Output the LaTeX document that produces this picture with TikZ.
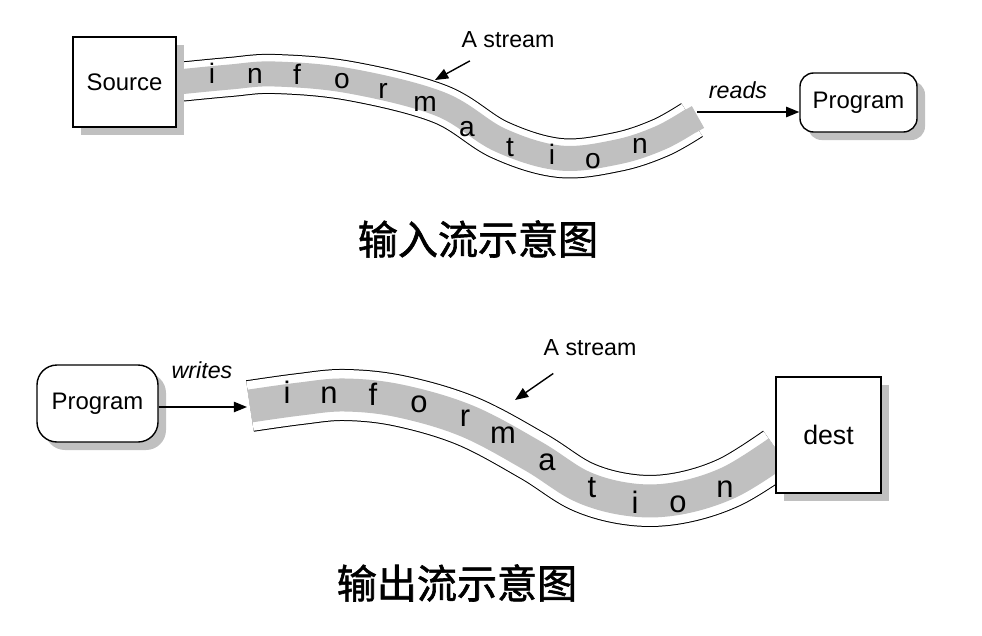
\documentclass[tikz,border=0pt]{standalone}
\usepackage{fontspec}
\setmainfont{Liberation Sans}
\newfontfamily\cjk[FakeBold=1.5]{Noto Sans CJK SC}
\usetikzlibrary{arrows.meta,shadows}
\definecolor{bandgray}{RGB}{192,192,192}

\tikzset{
  flow/.style={line width=0.35mm,-{Triangle[length=3.3mm,width=2.6mm]}},
  boxshadow/.style={general shadow={fill=bandgray,shadow xshift=2mm,shadow yshift=-2mm}},
  squarebox/.style={draw,line width=0.35mm,fill=white,inner sep=0pt,boxshadow,font=\fontsize{17pt}{20pt}\selectfont},
  roundbox/.style={squarebox,rounded corners=3.4mm},
  tag/.style={inner sep=0pt,font=\fontsize{16.5pt}{20pt}\selectfont},
  title/.style={inner sep=0pt,font=\cjk\fontsize{28.5pt}{34pt}\selectfont},
  streamtop/.style={draw=black,line width=10mm,line join=round,
    postaction={draw=white,line width=9.5mm},
    postaction={draw=bandgray,line width=6.25mm}},
  streambot/.style={draw=black,line width=13mm,line join=round,
    postaction={draw=white,line width=12.5mm},
    postaction={draw=bandgray,line width=8.25mm}},
  toplet/.style={inner sep=0pt,anchor=base,font=\fontsize{20pt}{24pt}\selectfont},
  botlet/.style={inner sep=0pt,anchor=base,font=\fontsize{22pt}{26pt}\selectfont}
}

\begin{document}
\begin{tikzpicture}[x=0.25mm,y=-0.25mm]
  \useasboundingbox (0,0) rectangle (982,635);

  % input stream
  \draw[streamtop] plot[smooth,tension=0.6] coordinates {(178,82) (230,77) (275,74) (350,81) (440,104)
    (500,140) (560,158) (617,152) (660,138) (692,120)};
  \draw[bandgray,line width=6.25mm] (690,121.5) -- (698,117);
  \foreach \ch/\x/\y [count=\k] in {i/212/83,n/255/83,f/297/84,o/342/88,r/383/98,m/425/111,
      a/467/136,t/510/156,i/552/164,o/593/168,n/640/153}
    \node[toplet] (top\k) at (\x,\y) {\ch};

  \node[squarebox,minimum width=25.75mm,minimum height=22.5mm] (source) at (124.5,82) {Source};
  \node[roundbox,minimum width=29.25mm,minimum height=14.75mm] (prog1) at (858.5,102.5) {Program};

  \coordinate (topend) at (697,112);
  \coordinate (hit1) at (435,80);
  \node[tag] (stream1) at (508,40) {A stream};
  \draw[flow,shorten <=6.5mm] (stream1) -- (hit1);
  \node[tag,font=\itshape\fontsize{16.5pt}{20pt}\selectfont] (reads) at (738,90) {reads};
  \draw[flow] (topend) -- (topend -| prog1.west);

  \node[title] (title1) at (478,239) {输入流示意图};

  % output stream
  \draw[streambot] plot[smooth,tension=0.6] coordinates {(250,406) (300,399) (345,395) (400,401) (467,421)
    (533,456) (583,487) (633,500) (680,498) (730,482) (778,452)};
  \foreach \ch/\x/\y [count=\k] in {i/287/403,n/329/403,f/373/405,o/419/412,r/465/426,m/503/443,
      a/547/470,t/592/497,i/635/513,o/678/512,n/725/497}
    \node[botlet] (bot\k) at (\x,\y) {\ch};

  \node[roundbox,rounded corners=5mm,minimum width=30.25mm,minimum height=19.25mm] (prog2) at (97.5,403.5) {Program};
  \node[squarebox,minimum width=26.25mm,minimum height=29mm,font=\fontsize{19pt}{22pt}\selectfont] (dest) at (828.5,435) {dest};

  \coordinate (botin) at (247,407);
  \coordinate (hit2) at (515,400);
  \node[tag,font=\itshape\fontsize{16.5pt}{20pt}\selectfont] (writes) at (202,370) {writes};
  \draw[flow] (prog2.east |- botin) -- (botin);
  \node[tag] (stream2) at (590,348) {A stream};
  \draw[flow,shorten <=7.5mm] (stream2) -- (hit2);

  \node[title] (title2) at (457,583) {输出流示意图};
\end{tikzpicture}
\end{document}
